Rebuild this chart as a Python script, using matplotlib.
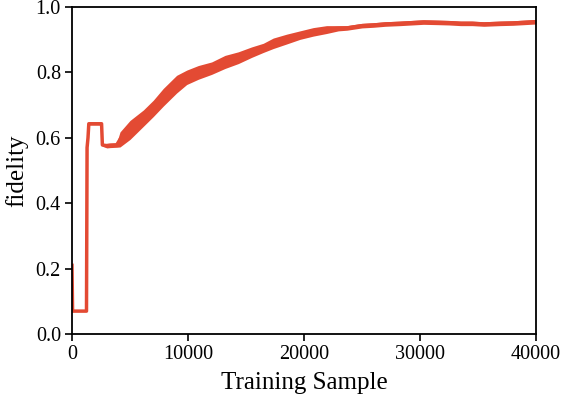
import matplotlib
matplotlib.use("Agg")
import matplotlib.pyplot as plt
import numpy as np

# Data
samples = [0, 50, 1250, 1300, 1380, 1450, 2550, 2620, 3000, 3280, 3850, 4140,
           5000, 6150, 7010, 7870, 9020, 9890, 10890, 12040, 13190, 14340,
           15490, 16490, 17350, 18510, 19650, 20800, 21950, 22960,
           23700, 25000, 26000, 27000, 28300, 29300, 30300, 31500, 32500,
           33500, 34500, 35500, 36900, 38000, 39000, 40000]
fidelity = [0.21, 0.07, 0.07, 0.57, 0.60, 0.643, 0.643, 0.578, 0.576, 0.577, 0.578, 0.595,
            0.624, 0.66, 0.69, 0.724, 0.764, 0.785, 0.80, 0.813, 0.832, 0.845,
            0.862, 0.875, 0.889, 0.902, 0.914, 0.924, 0.931, 0.935,
            0.936, 0.943, 0.945, 0.948, 0.95, 0.952, 0.954, 0.953, 0.952,
            0.950, 0.950, 0.948, 0.950, 0.951, 0.953, 0.955]
# half-width of the noisy band around the curve
noise_halfwidth = [0, 0, 0, 0, 0.003, 0.004, 0.004, 0.004, 0.007, 0.007, 0.007, 0.023,
                   0.029, 0.025, 0.025, 0.027, 0.027, 0.022, 0.021, 0.019, 0.02, 0.018,
                   0.016, 0.014, 0.016, 0.015, 0.013, 0.013, 0.012, 0.008,
                   0.007, 0.007, 0.007, 0.007, 0.007, 0.007, 0.007, 0.007, 0.007,
                   0.007, 0.007, 0.007, 0.007, 0.007, 0.007, 0.007]
xticks = [0, 10000, 20000, 30000, 40000]
yticks = [0.0, 0.2, 0.4, 0.6, 0.8, 1.0]

color = "#e34a33"
plt.rcParams['font.family'] = ['Liberation Serif', 'DejaVu Serif']

fig = plt.figure(figsize=(5.62, 3.98), dpi=100)
ax = fig.add_axes([0.1281, 0.1608, 0.8256, 0.8216])

x = np.array(samples, dtype=float)
y = np.array(fidelity)
s = np.array(noise_halfwidth)
ax.fill_between(x, y - s, y + s, color=color, linewidth=0)
ax.plot(x, y, color=color, linewidth=2.5, solid_joinstyle='round')

ax.set_xlim(0, 40000)
ax.set_ylim(0, 1.0)
ax.set_xticks(xticks)
ax.set_xticklabels([str(t) for t in xticks])
ax.set_yticks(yticks)
ax.set_yticklabels([f"{t:.1f}" for t in yticks])
ax.tick_params(direction='out', length=5, width=1.2, top=False, right=False,
               pad=3, labelsize=14.5)
for sp in ax.spines.values():
    sp.set_linewidth(1.3)
ax.set_xlabel("Training Sample", fontsize=18, labelpad=6)
ax.set_ylabel("fidelity", fontsize=18, labelpad=5)

fig.savefig("out.png", dpi=100)
